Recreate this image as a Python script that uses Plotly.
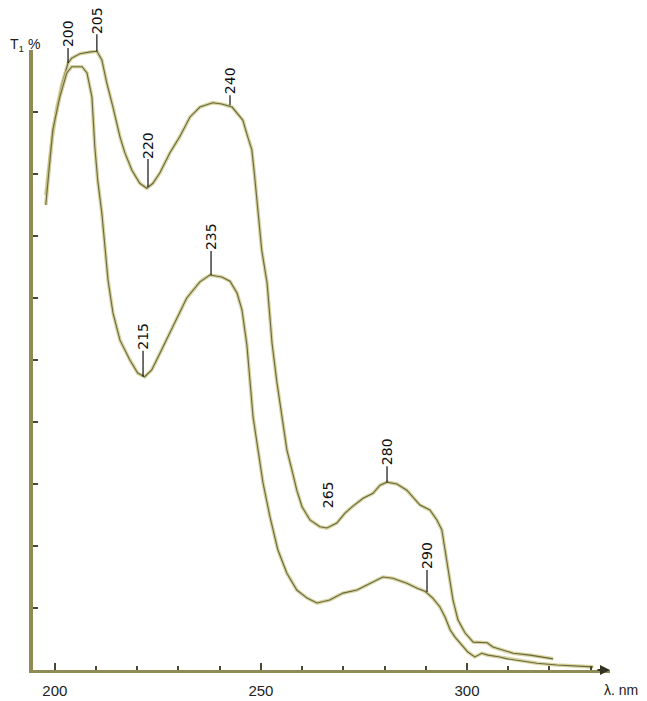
import plotly.graph_objects as go

# ---- data ----
wl_upper = [197.8, 198.8, 199.3, 200.5, 201.7, 203.2, 204.1, 206.1, 208.5, 210.2,
            211.4, 212.6, 214.1, 215.8, 217.0, 218.7, 220.6, 222.3, 223.8, 225.5,
            227.9, 230.3, 232.8, 235.2, 238.3, 240.5, 243.0, 245.6, 246.8, 247.8,
            248.5, 249.3, 250.2, 251.5, 252.2, 252.7, 253.9, 255.1, 256.3, 257.5,
            258.7, 260.0, 261.9, 264.3, 266.0, 268.4, 270.4, 272.1, 274.8, 277.2,
            278.9, 280.6, 283.0, 285.4, 286.9, 288.6, 291.0, 292.7, 293.9, 294.7,
            295.1, 295.9, 296.6, 297.8, 299.5, 301.5, 303.2, 304.9, 306.3, 308.7,
            311.2, 315.3, 320.9]
t_upper = [76.6, 83.4, 85.5, 90.8, 94.4, 97.9, 98.7, 99.4, 99.7, 99.8,
           98.4, 94.7, 90.8, 86.0, 83.4, 80.6, 78.5, 77.7, 78.5, 80.2,
           83.4, 86.0, 89.2, 90.8, 91.5, 91.3, 90.8, 88.7, 86.0, 83.9,
           79.5, 74.2, 67.7, 62.4, 56.9, 52.7, 46.3, 40.8, 35.5, 32.3,
           29.0, 26.3, 24.2, 23.1, 22.9, 23.7, 25.3, 26.3, 27.7, 28.5,
           29.8, 30.3, 30.0, 29.0, 27.9, 26.6, 25.8, 24.2, 22.6, 19.4,
           17.7, 14.5, 11.3, 8.1, 6.0, 4.5, 4.4, 4.4, 3.7, 3.2,
           2.7, 2.4, 1.8]

wl_lower = [197.8, 198.8, 199.5, 201.2, 202.9, 204.1, 206.6, 207.8, 209.0, 209.7,
            210.4, 211.4, 212.1, 212.9, 214.1, 215.8, 218.2, 220.1, 221.8, 223.5,
            225.5, 227.9, 230.3, 232.0, 235.2, 237.6, 240.5, 242.5, 244.2, 245.4,
            246.6, 247.3, 248.1, 249.3, 250.5, 252.2, 254.1, 256.3, 258.7, 261.2,
            263.6, 266.7, 269.9, 273.3, 276.5, 279.6, 282.0, 285.4, 287.9, 289.8,
            291.7, 293.4, 294.7, 295.9, 297.1, 298.8, 300.2, 301.9, 303.6, 305.1,
            308.0, 309.7, 312.9, 317.0, 321.8, 330.6]
t_lower = [75.0, 82.3, 87.1, 92.4, 96.3, 97.3, 97.3, 96.3, 92.4, 84.4,
           79.0, 73.7, 68.2, 62.9, 57.6, 53.2, 50.0, 47.9, 47.3, 48.4,
           51.1, 54.4, 57.6, 60.0, 62.6, 63.7, 63.4, 62.7, 60.8, 58.1,
           52.4, 46.3, 40.8, 35.5, 30.2, 24.7, 19.4, 15.6, 12.9, 11.6,
           10.8, 11.3, 12.4, 12.9, 14.0, 15.0, 14.8, 14.0, 13.2, 12.7,
           11.6, 10.2, 8.5, 6.5, 5.3, 4.0, 2.9, 2.1, 2.7, 2.4,
           2.1, 1.8, 1.5, 1.1, 0.8, 0.5]

# peak / valley labels (text, wavelength, transmittance at marked point)
peak_text = ["200", "205", "220", "240", "215", "235", "280", "290"]
peak_wl = [203.2, 210.2, 222.6, 242.5, 221.4, 237.9, 280.6, 290.3]
peak_t = [97.9, 99.8, 77.9, 91.1, 47.3, 63.7, 30.3, 12.6]
peak_offset = [-29, -31, -42, -24, -40, -38, -30, -36]   # label offsets (px)

free_text = ["265"]
free_wl = [266.3]
free_t = [28.2]

x_major = [200, 250, 300]
y_ticks = [10, 20, 30, 40, 50, 60, 70, 80, 90]

HALO = "rgba(208,204,142,0.85)"
CORE = "#6a6840"
AXIS = "#8e8b57"

fig = go.Figure()
for wl, t in [(wl_upper, t_upper), (wl_lower, t_lower)]:
    fig.add_trace(go.Scatter(x=wl, y=t, mode="lines",
                             line=dict(color=HALO, width=3.6),
                             hoverinfo="skip", showlegend=False))
    fig.add_trace(go.Scatter(x=wl, y=t, mode="lines",
                             line=dict(color=CORE, width=1.1),
                             showlegend=False))

LABEL_FONT = dict(family="DejaVu Sans", size=14, color="#111111")
annotations = []
for txt, x, y, off in zip(peak_text, peak_wl, peak_t, peak_offset):
    annotations.append(dict(x=x, y=y, xref="x", yref="y", text=txt,
                            textangle=-90, showarrow=True, arrowhead=0,
                            arrowwidth=1.2, arrowcolor="#111111",
                            ax=0, ay=off, standoff=0, borderpad=0,
                            font=LABEL_FONT))
for txt, x, y in zip(free_text, free_wl, free_t):
    annotations.append(dict(x=x, y=y, xref="x", yref="y", text=txt,
                            textangle=-90, showarrow=False, font=LABEL_FONT))

# axis labels
annotations.append(dict(x=-0.014, y=1.008, xref="paper", yref="paper",
                        text="T<sub>1</sub> %", showarrow=False,
                        xanchor="center", yanchor="middle",
                        font=dict(family="Liberation Sans", size=14, color="#222222")))
annotations.append(dict(x=1.052, y=-0.032, xref="paper", yref="paper",
                        text="λ. nm", showarrow=False,
                        xanchor="right", yanchor="middle",
                        font=dict(family="Liberation Sans Narrow, Liberation Sans", size=14, color="#222222")))
# arrow head at end of wavelength axis
annotations.append(dict(x=1.0, y=0, xref="paper", yref="paper", text=" ",
                        showarrow=True, arrowhead=2, arrowsize=1, arrowwidth=2,
                        arrowcolor="#333322", ax=-14, ay=0, standoff=0,
                        font=dict(size=1)))

# page body adds an 8px offset, so the figure is sized to fit inside it
fig.update_layout(
    width=639, height=693,
    margin=dict(l=25, r=37, t=42, b=31),
    paper_bgcolor="white", plot_bgcolor="white",
    showlegend=False,
    annotations=annotations,
    xaxis=dict(range=[194.7, 334.7], showgrid=False, zeroline=False,
               automargin=False,
               showline=True, linecolor=AXIS, linewidth=3,
               tickvals=x_major, ticktext=[str(v) for v in x_major],
               ticks="inside", ticklen=7, tickwidth=2, tickcolor="#4a4830",
               minor=dict(dtick=10, tick0=200, ticks="inside", ticklen=4,
                          tickwidth=2, tickcolor="#4a4830", showgrid=False),
               ticklabelstandoff=5,
               tickfont=dict(family="Liberation Sans Narrow, Liberation Sans", size=15, color="#222222")),
    yaxis=dict(range=[0, 100], showgrid=False, zeroline=False,
               automargin=False,
               showline=True, linecolor=AXIS, linewidth=4,
               tickvals=y_ticks, showticklabels=False,
               ticks="inside", ticklen=5, tickwidth=2, tickcolor="#4a4830"),
)

fig.write_html("out.html")
